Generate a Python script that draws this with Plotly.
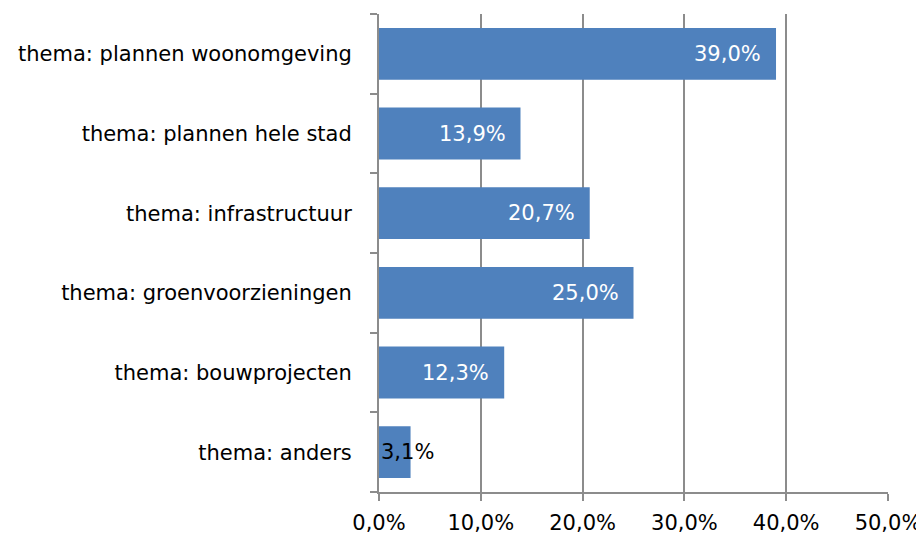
import plotly.graph_objects as go

categories = ["thema: anders", "thema: bouwprojecten", "thema: groenvoorzieningen",
              "thema: infrastructuur", "thema: plannen hele stad", "thema: plannen woonomgeving"]
values = [3.1, 12.3, 25.0, 20.7, 13.9, 39.0]
x_ticks = [0, 10, 20, 30, 40, 50]

FONT = "DejaVu Sans"
FS = 21

def fmt(v):
    return f"{v:.1f}".replace(".", ",") + "%"

fig = go.Figure(go.Bar(
    y=categories, x=values, orientation="h",
    marker=dict(color="#4F81BD", line=dict(width=0)),
    width=0.65,
    hoverinfo="x+y",
))

for c, v in zip(categories, values):
    if v < 5:
        fig.add_annotation(x=0, y=c, text=fmt(v), showarrow=False, xanchor="left",
                           xshift=0, font=dict(color="black", size=FS, family=FONT))
    else:
        fig.add_annotation(x=v, y=c, text=fmt(v), showarrow=False, xanchor="right",
                           xshift=-13, font=dict(color="white", size=FS, family=FONT))

# page body has an 8px offset; margins compensate so the plot area lands at 379..888 x 14..492
fig.update_layout(
    width=924, height=541,
    margin=dict(l=371, r=44, t=6, b=57),
    plot_bgcolor="white", paper_bgcolor="white",
    font=dict(family=FONT, size=FS, color="black"),
    showlegend=False,
)
fig.update_xaxes(
    range=[0, 50], tickvals=x_ticks, ticktext=[fmt(t) for t in x_ticks],
    showgrid=True, gridcolor="#8c8c8c", gridwidth=2,
    showline=True, linecolor="#8c8c8c", linewidth=2,
    ticks="outside", ticklen=7, tickcolor="#8c8c8c", tickwidth=2,
    ticklabelstandoff=4, zeroline=False, automargin=False,
)
fig.update_yaxes(
    categoryorder="array", categoryarray=categories,
    showline=True, linecolor="#8c8c8c", linewidth=2,
    ticks="outside", ticklen=7, tickcolor="#8c8c8c", tickwidth=2,
    tickson="boundaries", ticklabelstandoff=21, showgrid=False, automargin=False,
)

fig.write_html("out.html")
